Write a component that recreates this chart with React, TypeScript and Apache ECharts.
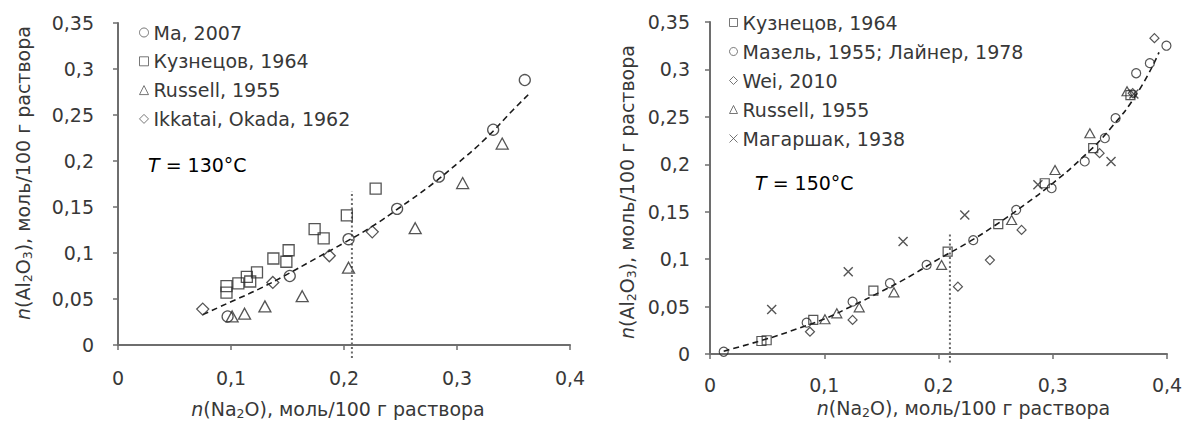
import React, { useEffect, useRef } from "react";
import * as echarts from "echarts";

// ---------- Left chart (T = 130°C) ----------
const L_MA: number[][] = [
  [0.097, 0.031], [0.152, 0.075], [0.204, 0.115], [0.247, 0.148],
  [0.284, 0.183], [0.332, 0.234], [0.36, 0.288],
];
const L_KUZ: number[][] = [
  [0.096, 0.064], [0.096, 0.057], [0.1065, 0.067], [0.114, 0.074], [0.117, 0.069],
  [0.123, 0.079], [0.1375, 0.094], [0.149, 0.0905], [0.151, 0.103], [0.174, 0.126],
  [0.182, 0.116], [0.2025, 0.141], [0.228, 0.17],
];
const L_RUS: number[][] = [
  [0.101, 0.031], [0.112, 0.034], [0.13, 0.042], [0.163, 0.053], [0.204, 0.084],
  [0.263, 0.127], [0.305, 0.176], [0.34, 0.219],
];
const L_IKK: number[][] = [
  [0.075, 0.039], [0.137, 0.068], [0.187, 0.097], [0.225, 0.123],
];
const L_FIT: number[][] = [
  [0.075, 0.033], [0.1, 0.047], [0.125, 0.061], [0.15, 0.077], [0.175, 0.094],
  [0.2, 0.111], [0.225, 0.129], [0.25, 0.15], [0.275, 0.172], [0.3, 0.197],
  [0.325, 0.224], [0.35, 0.256], [0.363, 0.272],
];
const L_VLINE: number[][] = [[0.207, -0.014], [0.207, 0.167]];

// ---------- Right chart (T = 150°C) ----------
const R_KUZ: number[][] = [
  [0.045, 0.0137], [0.0496, 0.0145], [0.0904, 0.0359], [0.143, 0.0668], [0.208, 0.108],
  [0.2523, 0.137], [0.293, 0.18], [0.3354, 0.217], [0.368, 0.273],
];
const R_MAZ: number[][] = [
  [0.012, 0.0024], [0.0846, 0.033], [0.1248, 0.0552], [0.1575, 0.0746], [0.1896, 0.0939],
  [0.2304, 0.12], [0.268, 0.152], [0.299, 0.1748], [0.328, 0.203], [0.3456, 0.2275],
  [0.355, 0.2486], [0.373, 0.296], [0.385, 0.3066], [0.3995, 0.325],
];
const R_WEI: number[][] = [
  [0.0875, 0.0235], [0.1248, 0.0359], [0.217, 0.071], [0.245, 0.099], [0.2727, 0.1308],
  [0.341, 0.2117], [0.37, 0.275], [0.389, 0.333],
];
const R_RUS: number[][] = [
  [0.1006, 0.0366], [0.111, 0.0429], [0.1306, 0.0492], [0.161, 0.065], [0.2027, 0.0939],
  [0.264, 0.1413], [0.302, 0.194], [0.3325, 0.2327], [0.365, 0.277],
];
const R_MAG: number[][] = [
  [0.054, 0.047], [0.121, 0.0868], [0.169, 0.1185], [0.223, 0.1466], [0.287, 0.1783],
  [0.351, 0.203], [0.371, 0.274],
];
const R_FIT: number[][] = [
  [0.012, 0.003], [0.05, 0.016], [0.075, 0.026], [0.1, 0.037], [0.125, 0.051],
  [0.15, 0.066], [0.175, 0.082], [0.2, 0.1], [0.225, 0.117], [0.25, 0.136],
  [0.275, 0.157], [0.3, 0.18], [0.325, 0.206], [0.35, 0.237], [0.375, 0.277], [0.393, 0.318],
];
const R_VLINE: number[][] = [[0.21, -0.009], [0.21, 0.128]];

const X_TICKS = ["0", "0,1", "0,2", "0,3", "0,4"];
const Y_TICKS = ["0", "0,05", "0,1", "0,15", "0,2", "0,25", "0,3", "0,35"];

const L_NAMES = ["Ma, 2007", "Кузнецов, 1964", "Russell, 1955", "Ikkatai, Okada, 1962"];
const R_NAMES = ["Кузнецов, 1964 ", "Мазель, 1955; Лайнер, 1978", "Wei, 2010", "Russell, 1955 ", "Магаршак, 1938"];

const FONT = "'DejaVu Sans', sans-serif";
const TXT = "#383838";
const AX = "#6e6e6e";
const MK = "#2a2a2a";
const CROSS = "path://M0,0L10,10M10,0L0,10";
const TICK_FS = 19;
const LEG_FS = 19;
const TITLE_FS = 19;

function fmtX(v: number) {
  return X_TICKS[Math.round(v / 0.1)] ?? "";
}
function fmtY(v: number) {
  return Y_TICKS[Math.round(v / 0.05)] ?? "";
}

const rich = {
  i: { fontStyle: "italic" as const, fontSize: TITLE_FS, fontFamily: FONT, color: TXT },
  n: { fontSize: TITLE_FS, fontFamily: FONT, color: TXT },
  s: { fontSize: 12.5, fontFamily: FONT, color: TXT, verticalAlign: "bottom" as const, padding: [9, 0, 0, 0] },
};

function xAxis(gi: number, labelMargin: number, nameGap: number, shift: number) {
  return {
    type: "value",
    gridIndex: gi,
    min: 0,
    max: 0.4,
    interval: 0.1,
    name: "{i|n}{n|(Na}{s|2}{n|O), моль/100 г раствора}",
    nameLocation: "middle",
    nameGap,
    nameTextStyle: { rich, padding: shift >= 0 ? [0, 0, 0, shift] : [0, -shift, 0, 0] },
    splitLine: { show: false },
    axisLine: { show: true, lineStyle: { color: AX, width: 2 } },
    axisTick: { show: true, length: 5, lineStyle: { color: AX, width: 1.5 } },
    axisLabel: { formatter: fmtX, color: TXT, fontSize: TICK_FS, fontFamily: FONT, margin: labelMargin },
  };
}
function yAxis(gi: number, labelMargin: number, nameGap: number, shift: number) {
  return {
    type: "value",
    gridIndex: gi,
    min: 0,
    max: 0.35,
    interval: 0.05,
    name: "{i|n}{n|(Al}{s|2}{n|O}{s|3}{n|), моль/100 г раствора}",
    nameLocation: "middle",
    nameGap,
    nameTextStyle: { rich, padding: shift >= 0 ? [0, 0, 0, shift] : [0, -shift, 0, 0] },
    splitLine: { show: false },
    axisLine: { show: true, onZero: false, lineStyle: { color: AX, width: 2 } },
    axisTick: { show: true, length: 5, lineStyle: { color: AX, width: 1.5 } },
    axisLabel: { formatter: fmtY, color: TXT, fontSize: TICK_FS, fontFamily: FONT, margin: labelMargin },
  };
}

function scatter(name: string, data: number[][], gi: number, symbol: string, size: number | number[], bw = 1.3) {
  return {
    type: "scatter",
    name,
    xAxisIndex: gi,
    yAxisIndex: gi,
    data,
    symbol,
    symbolSize: size,
    itemStyle: { color: "rgba(255,255,255,0)", borderColor: MK, borderWidth: bw },
    z: 3,
  };
}
function fit(data: number[][], gi: number) {
  return {
    type: "line",
    xAxisIndex: gi,
    yAxisIndex: gi,
    data,
    smooth: true,
    showSymbol: false,
    symbol: "none",
    lineStyle: { color: "#1a1a1a", width: 1.6, type: [6, 4] },
    z: 2,
  };
}
function vline(data: number[][], gi: number) {
  return {
    type: "line",
    xAxisIndex: gi,
    yAxisIndex: gi,
    data,
    clip: false,
    showSymbol: false,
    symbol: "none",
    lineStyle: { color: "#6a6a6a", width: 2, type: [2, 2.5] },
    z: 1,
  };
}

export default function App() {
  const ref = useRef<HTMLDivElement>(null);
  useEffect(() => {
    if (!ref.current) return;
    const chart = echarts.init(ref.current, undefined, { renderer: "svg" });
    const legendText = { color: TXT, fontSize: LEG_FS, fontFamily: FONT };
    const legendItem = { borderColor: "#555", borderWidth: 1 };
    chart.setOption({
      animation: false,
      backgroundColor: "#ffffff",
      textStyle: { fontFamily: FONT },
      grid: [
        { left: 118, top: 23, width: 452, height: 322 },
        { left: 710, top: 22, width: 457, height: 332 },
      ],
      xAxis: [xAxis(0, 23, 53, -12), xAxis(1, 21, 31, 50)],
      yAxis: [yAxis(0, 24, 84, 22), yAxis(1, 20, 72, -8)],
      legend: [
        {
          orient: "vertical",
          left: 134,
          top: 18,
          itemGap: 9.8,
          itemWidth: 9,
          itemHeight: 9,
          itemTextGap: 6,
          data: L_NAMES,
          textStyle: legendText,
          itemStyle: legendItem,
          selectedMode: false,
        },
        {
          orient: "vertical",
          left: 724,
          top: 8,
          itemGap: 10,
          itemWidth: 8,
          itemHeight: 8,
          itemTextGap: 6,
          data: R_NAMES,
          textStyle: legendText,
          itemStyle: legendItem,
          selectedMode: false,
        },
      ],
      graphic: [
        {
          type: "text",
          left: 148,
          top: 155,
          style: {
            text: "{i|T}{n| = 130°C}",
            rich: { i: rich.i, n: rich.n },
          },
        },
        {
          type: "text",
          left: 755,
          top: 173,
          style: {
            text: "{i|T}{n| = 150°C}",
            rich: { i: rich.i, n: rich.n },
          },
        },
      ],
      series: [
        vline(L_VLINE, 0),
        fit(L_FIT, 0),
        scatter(L_NAMES[0], L_MA, 0, "circle", 11),
        scatter(L_NAMES[1], L_KUZ, 0, "rect", 11),
        scatter(L_NAMES[2], L_RUS, 0, "triangle", [12, 11]),
        scatter(L_NAMES[3], L_IKK, 0, "diamond", [12, 12]),
        vline(R_VLINE, 1),
        fit(R_FIT, 1),
        scatter(R_NAMES[0], R_KUZ, 1, "rect", 9, 1.2),
        scatter(R_NAMES[1], R_MAZ, 1, "circle", 9, 1.2),
        scatter(R_NAMES[2], R_WEI, 1, "diamond", [9, 9], 1.2),
        scatter(R_NAMES[3], R_RUS, 1, "triangle", [10, 9], 1.2),
        scatter(R_NAMES[4], R_MAG, 1, CROSS, 9, 1.4),
      ],
    });
    return () => chart.dispose();
  }, []);
  return (
    <div
      ref={ref}
      style={{ position: "fixed", left: 0, top: 0, width: 1194, height: 425, background: "#fff" }}
    />
  );
}
